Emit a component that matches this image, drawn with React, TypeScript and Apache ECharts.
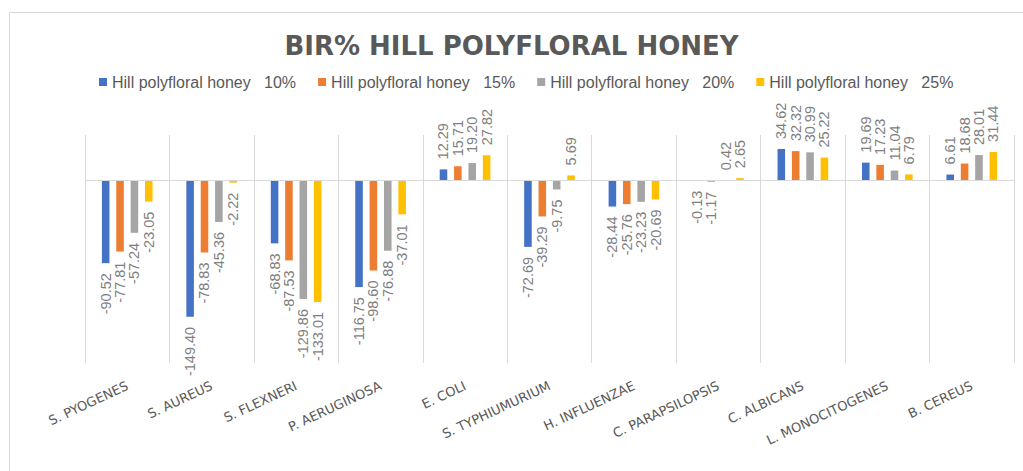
import React, { useEffect, useRef } from "react";
import * as echarts from "echarts";

const categories = [
  "S. PYOGENES",
  "S. AUREUS",
  "S. FLEXNERI",
  "P. AERUGINOSA",
  "E. COLI",
  "S. TYPHIUMURIUM",
  "H. INFLUENZAE",
  "C. PARAPSILOPSIS",
  "C. ALBICANS",
  "L. MONOCITOGENES",
  "B. CEREUS",
];

const seriesNames = [
  "Hill polyfloral honey   10%",
  "Hill polyfloral honey   15%",
  "Hill polyfloral honey   20%",
  "Hill polyfloral honey   25%",
];

const honey10 = [-90.52, -149.4, -68.83, -116.75, 12.29, -72.69, -28.44, -0.13, 34.62, 19.69, 6.61];
const honey15 = [-77.81, -78.83, -87.53, -98.6, 15.71, -39.29, -25.76, -1.17, 32.32, 17.23, 18.68];
const honey20 = [-57.24, -45.36, -129.86, -76.88, 19.2, -9.75, -23.23, 0.42, 30.99, 11.04, 28.01];
const honey25 = [-23.05, -2.22, -133.01, -37.01, 27.82, 5.69, -20.69, 2.65, 25.22, 6.79, 31.44];

const seriesValues = [honey10, honey15, honey20, honey25];
const colors = ["#4472c4", "#ed7d31", "#a5a5a5", "#ffc000"];

const titleText = "BIR% HILL POLYFLORAL HONEY";

export default function App() {
  const ref = useRef<HTMLDivElement>(null);

  useEffect(() => {
    if (!ref.current) return;
    const chart = echarts.init(ref.current, null, { renderer: "svg" });

    const series = seriesValues.map((vals, si) => ({
      name: seriesNames[si],
      type: "bar",
      barGap: "90%",
      barCategoryGap: "40%",
      itemStyle: { color: colors[si] },
      label: {
        show: true,
        position: "outside",
        rotate: 90,
        verticalAlign: "middle",
        distance: 10,
        color: "#7f7f7f",
        fontSize: 14.5,
        fontFamily: "Liberation Sans",
        formatter: (p: any) => Number(p.value).toFixed(2),
      },
      data: vals.map((v) => ({
        value: v,
        label: { align: v < 0 ? "right" : "left" },
      })),
      markLine:
        si === 0
          ? {
              silent: true,
              symbol: ["none", "none"],
              label: { show: false },
              lineStyle: { color: "#d9d9d9", type: "solid", width: 1 },
              data: [{ yAxis: 0 }],
            }
          : undefined,
    }));

    chart.setOption({
      animation: false,
      backgroundColor: "#ffffff",
      title: {
        text: titleText,
        left: "center",
        top: 33,
        padding: [0, 0, 0, 21],
        textStyle: {
          fontFamily: "DejaVu Sans",
          fontWeight: "bold",
          fontSize: 26,
          color: "#595959",
        },
      },
      legend: {
        data: seriesNames,
        left: 99,
        top: 74,
        padding: 0,
        icon: "rect",
        itemWidth: 8,
        itemHeight: 8,
        itemGap: 22,
        textStyle: {
          fontFamily: "Liberation Sans",
          fontSize: 16,
          color: "#595959",
        },
      },
      grid: {
        left: 85,
        right: 9,
        top: 135,
        bottom: 108,
        outerBoundsMode: "none",
      },
      xAxis: {
        type: "category",
        data: categories,
        axisLine: { show: false, onZero: false },
        axisTick: { show: false },
        splitLine: { show: true, lineStyle: { color: "#d9d9d9", width: 1 } },
        axisLabel: {
          interval: 0,
          rotate: 25,
          margin: 22,
          color: "#595959",
          fontSize: 13,
          fontFamily: "DejaVu Sans",
        },
      },
      yAxis: {
        type: "value",
        min: -200,
        max: 50,
        interval: 50,
        show: false,
        splitLine: { show: false },
      },
      graphic: [
        {
          type: "rect",
          shape: { x: 9.5, y: 12.5, width: 1100, height: 600 },
          style: { fill: "none", stroke: "#d9d9d9", lineWidth: 1 },
          silent: true,
          z: -10,
        },
      ],
      series,
    });

    return () => {
      chart.dispose();
    };
  }, []);

  return (
    <div
      ref={ref}
      style={{ position: "fixed", left: 0, top: 0, width: 1023, height: 471 }}
    />
  );
}
